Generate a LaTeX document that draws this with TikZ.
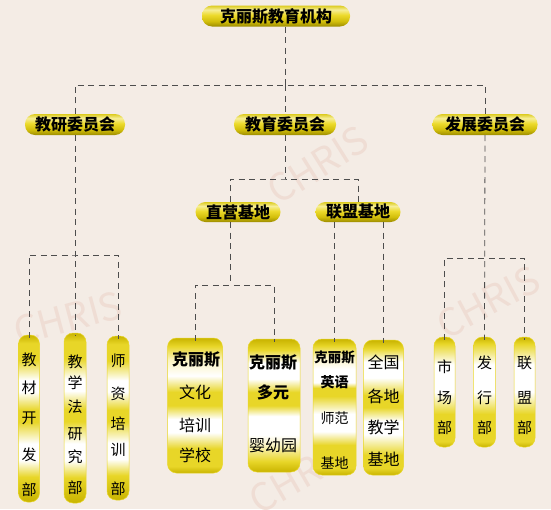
\documentclass[tikz,border=0pt]{standalone}
\usepackage{fontspec}
\newfontfamily\cjk{Noto Sans CJK SC}
\usetikzlibrary{calc}
\definecolor{bg}{HTML}{F4ECE5}
\definecolor{pY}{HTML}{E8D628}
\definecolor{pD}{HTML}{C9B400}
\definecolor{pP}{HTML}{FAF3C0}
\definecolor{pW}{HTML}{FFFFFF}
\definecolor{hT}{HTML}{DCCB1E}
\definecolor{hL}{HTML}{F6EE96}
\definecolor{hM}{HTML}{ECDA2C}
\definecolor{hMM}{HTML}{D2BE0A}
\definecolor{hD}{HTML}{9C8C00}
\definecolor{ln}{HTML}{4D4D4D}
\definecolor{wm}{HTML}{EFDDD4}
\pgfdeclareverticalshading{hsh}{100bp}{color(0bp)=(hD); color(25bp)=(hD); color(37.5bp)=(hMM); color(52.5bp)=(hM); color(65bp)=(hL); color(75bp)=(hT); color(100bp)=(hT)}
\pgfdeclareverticalshading{vA}{100bp}{color(0bp)=(pD); color(25bp)=(pD); color(32.5bp)=(pY); color(37.5bp)=(pW); color(42.5bp)=(pW); color(49bp)=(pY); color(52.5bp)=(pY); color(58bp)=(pW); color(61.5bp)=(pW); color(67.5bp)=(pY); color(72.5bp)=(pY); color(75bp)=(pD); color(100bp)=(pD)}
\pgfdeclareverticalshading{vB}{100bp}{color(0bp)=(pD); color(25bp)=(pD); color(27.5bp)=(pY); color(40bp)=(pY); color(50bp)=(pW); color(62.5bp)=(pW); color(72bp)=(pY); color(75bp)=(pD); color(100bp)=(pD)}
\pgfdeclareverticalshading{vC}{100bp}{color(0bp)=(pD); color(25bp)=(pD); color(27.5bp)=(pY); color(34bp)=(pY); color(40bp)=(pW); color(45bp)=(pW); color(50bp)=(pY); color(55bp)=(pY); color(61bp)=(pW); color(67bp)=(pP); color(72bp)=(pY); color(75bp)=(pD); color(100bp)=(pD)}
\pgfdeclareverticalshading{vD}{100bp}{color(0bp)=(pD); color(25bp)=(pD); color(29bp)=(pY); color(35bp)=(pP); color(39bp)=(pW); color(46bp)=(pW); color(50bp)=(pY); color(55bp)=(pY); color(60bp)=(pW); color(66bp)=(pW); color(71bp)=(pY); color(75bp)=(pD); color(100bp)=(pD)}
\pgfdeclareverticalshading{vE}{100bp}{color(0bp)=(pD); color(25bp)=(pD); color(27.5bp)=(pY); color(36bp)=(pY); color(41bp)=(pW); color(47.5bp)=(pW); color(54bp)=(pY); color(57bp)=(pY); color(59bp)=(pW); color(64bp)=(pW); color(68.5bp)=(pP); color(72.5bp)=(pY); color(75bp)=(pD); color(100bp)=(pD)}
\pgfdeclareverticalshading{vF}{100bp}{color(0bp)=(pD); color(25bp)=(pD); color(27.5bp)=(pY); color(32.5bp)=(pY); color(40bp)=(pW); color(45bp)=(pW); color(50bp)=(pY); color(54.5bp)=(pY); color(61bp)=(pW); color(67bp)=(pW); color(72bp)=(pY); color(75bp)=(pD); color(100bp)=(pD)}
\tikzset{
  conn/.style={draw=ln, line width=0.8pt, dash pattern=on 6pt off 4.5pt},
  hpill/.style={shade, shading=hsh, rounded corners=10pt, minimum height=21pt, inner sep=0pt, font=\cjk\bfseries\fontsize{16}{16}\selectfont},
  vpill/.style={shade, shading=#1, rounded corners=9pt, inner sep=0pt, draw=pY, line width=0.5pt},
  ch/.style={font=\cjk\fontsize{15}{15}\selectfont, inner sep=0pt},
  chm/.style={font=\cjk\fontsize{16}{16}\selectfont, inner sep=0pt},
  chb/.style={font=\cjk\bfseries\fontsize{16}{16}\selectfont, inner sep=0pt},
  mark wm/.style={font=\cjk\fontsize{38}{38}\selectfont, text=wm, inner sep=0pt},
}
\begin{document}
\begin{tikzpicture}[x=1pt,y=-1pt]
\fill[bg] (0,0) rectangle (551,509);
\useasboundingbox (0,0) rectangle (551,509);
% faint watermarks
\node[mark wm, rotate=32] (wm1) at (318,165) {CHRIS};
\node[mark wm, rotate=15] (wm2) at (68,318) {CHRIS};
\node[mark wm, rotate=28] (wm3) at (488,302) {CHRIS};
\node[mark wm, rotate=30] (wm4) at (300,476) {CHRIS};
% level 1-3
\node[hpill, minimum width=148pt] (top) at (276,16) {克丽斯教育机构};
\node[hpill, minimum width=100pt] (jy) at (75,124.5) {教研委员会};
\node[hpill, minimum width=102pt] (jyu) at (285,124.5) {教育委员会};
\node[hpill, minimum width=105pt] (fz) at (485,124.5) {发展委员会};
\node[hpill, minimum width=85pt, minimum height=20pt] (zy) at (238,212) {直营基地};
\node[hpill, minimum width=85pt, minimum height=20pt] (lm) at (358,212) {联盟基地};
% level 4 pills
\node[vpill=vA, minimum width=21pt, minimum height=167pt] (p1) at (29,418.5) {};
\node[vpill=vA, minimum width=22pt, minimum height=170pt] (p2) at (75,418) {};
\node[vpill=vA, minimum width=22pt, minimum height=164pt] (p3) at (118,418) {};
\node[vpill=vC, minimum width=55pt, minimum height=135pt] (p4) at (195,405.5) {};
\node[vpill=vD, minimum width=52pt, minimum height=133pt] (p5) at (274,405.5) {};
\node[vpill=vE, minimum width=43pt, minimum height=136pt] (p6) at (334.5,407) {};
\node[vpill=vF, minimum width=40pt, minimum height=135pt] (p7) at (383.5,407.5) {};
\node[vpill=vB, minimum width=21pt, minimum height=110pt] (p8) at (444.5,392) {};
\node[vpill=vB, minimum width=22pt, minimum height=110pt] (p9) at (484.5,392) {};
\node[vpill=vB, minimum width=21pt, minimum height=110pt] (p10) at (524.5,392) {};
% texts
\node[ch] (t1a) at (29,360) {教};
\node[ch] (t1b) at (29,388) {材};
\node[ch] (t1c) at (29,418) {开};
\node[ch] (t1d) at (29,455) {发};
\node[ch] (t1e) at (29,490) {部};
\node[ch] (t2a) at (75,362) {教};
\node[ch] (t2b) at (75,383) {学};
\node[ch] (t2c) at (75,407) {法};
\node[ch] (t2d) at (75,434) {研};
\node[ch] (t2e) at (75,457) {究};
\node[ch] (t2f) at (75,488) {部};
\node[ch] (t3a) at (118,361) {师};
\node[ch] (t3b) at (118,394) {资};
\node[ch] (t3c) at (118,424) {培};
\node[ch] (t3d) at (118,450) {训};
\node[ch] (t3e) at (118,489) {部};
\node[chb] (t4a) at (196,360) {克丽斯};
\node[chm] (t4b) at (195,392) {文化};
\node[chm] (t4c) at (195,425) {培训};
\node[chm] (t4d) at (195,455) {学校};
\node[chb] (t5a) at (273,363) {克丽斯};
\node[chb] (t5b) at (273,392) {多元};
\node[chm] (t5c) at (273,445) {婴幼园};
\node[chb, font=\cjk\bfseries\fontsize{13.5}{13.5}\selectfont] (t6a) at (334.5,357) {克丽斯};
\node[chb, font=\cjk\bfseries\fontsize{14}{14}\selectfont] (t6b) at (334.5,382) {英语};
\node[chm, font=\cjk\fontsize{14}{14}\selectfont] (t6c) at (334.5,418) {师范};
\node[chm, font=\cjk\fontsize{14}{14}\selectfont] (t6d) at (334.5,463) {基地};
\node[chm] (t7a) at (383.5,362) {全国};
\node[chm] (t7b) at (383.5,396) {各地};
\node[chm] (t7c) at (383.5,427) {教学};
\node[chm] (t7d) at (383.5,459) {基地};
\node[ch] (t8a) at (444.5,367) {市};
\node[ch] (t8b) at (444.5,398) {场};
\node[ch] (t8c) at (444.5,428) {部};
\node[ch] (t9a) at (484.5,363) {发};
\node[ch] (t9b) at (484.5,398) {行};
\node[ch] (t9c) at (484.5,428) {部};
\node[ch] (t10a) at (524.5,363) {联};
\node[ch] (t10b) at (524.5,398) {盟};
\node[ch] (t10c) at (524.5,428) {部};
% connectors
\coordinate (j1) at (285,85);
\draw[conn] (top.south -| j1) -- (j1);
\draw[conn] (jy.north) |- (j1) -| (fz.north);
\draw[conn] (j1) -- (jyu.north);
\coordinate (j2) at (285,179);
\draw[conn] (jyu.south) -- (j2);
\draw[conn] ([xshift=-8pt]zy.north) |- (j2) -| (lm.north);
\coordinate (j3) at (230,285);
\draw[conn] ([xshift=-8pt]zy.south) -- (j3);
\draw[conn] ([yshift=-3pt]p4.north) |- (j3) -| ([yshift=-3pt]p5.north);
\draw[conn] (lm.south -| p6.north) -- ([yshift=-3pt]p6.north);
\draw[conn] (lm.south -| p7.north) -- ([yshift=-3pt]p7.north);
\coordinate (j4) at (75,255);
\draw[conn] (jy.south) -- ([yshift=-3pt]p2.north);
\draw[conn] ([yshift=-3pt]p1.north) |- (j4) -| ([yshift=-3pt]p3.north);
\coordinate (j5) at (485,258);
\draw[conn] (fz.south) -- ([yshift=-3pt]p9.north);
\draw[conn] ([yshift=-3pt]p8.north) |- (j5) -| ([yshift=-3pt]p10.north);
\end{tikzpicture}
\end{document}
